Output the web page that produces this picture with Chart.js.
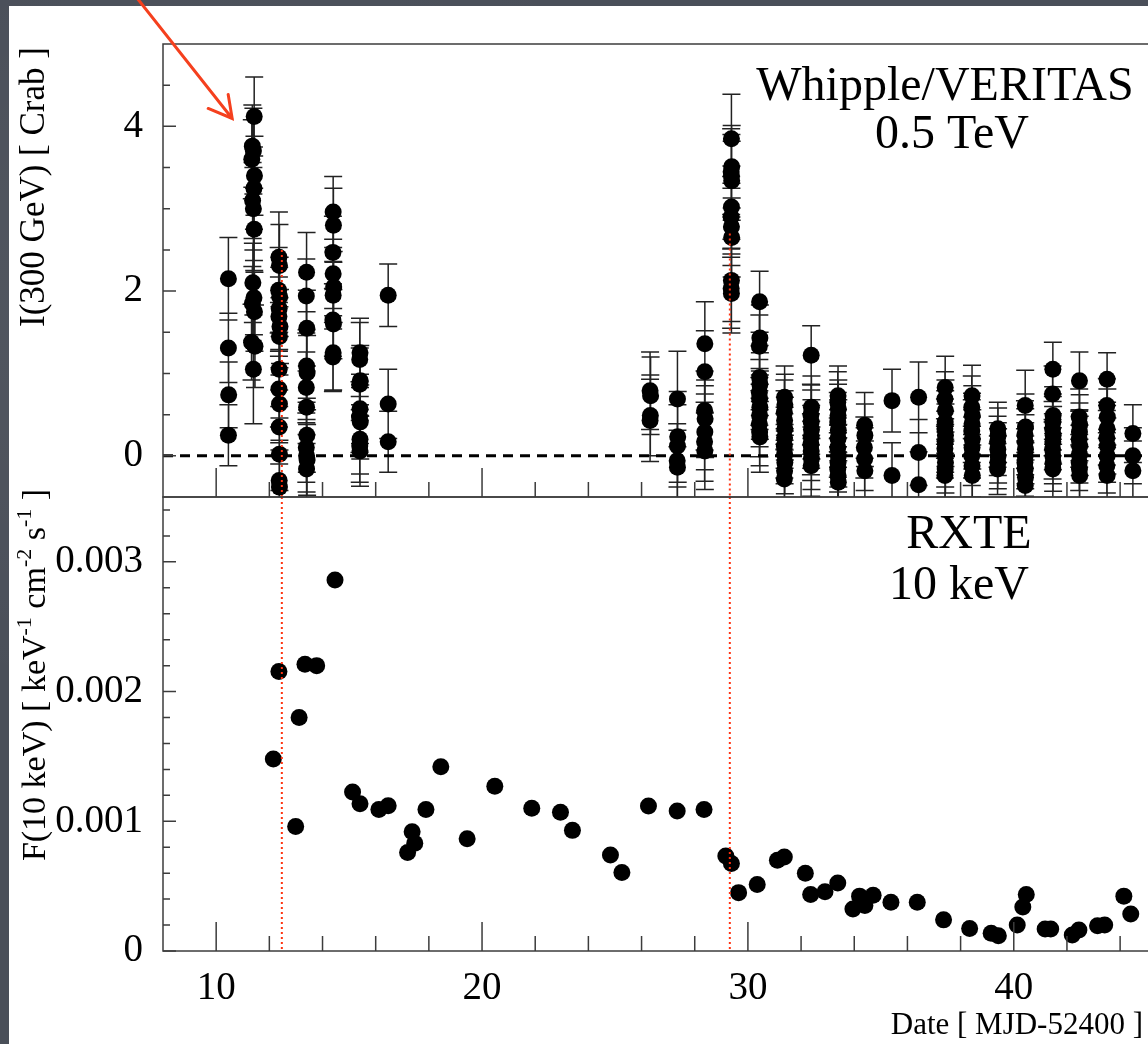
<!DOCTYPE html>
<html>
<head>
<meta charset="utf-8">
<title>Mrk 421 light curves</title>
<script src="https://cdn.jsdelivr.net/npm/chart.js@4.4.1/dist/chart.umd.min.js"></script>
<style>
  html, body { margin: 0; padding: 0; overflow: hidden; }
  body {
    width: 1148px; height: 1044px; position: relative;
    background-color: #4a4f59;
    background-image:
      radial-gradient(ellipse at 20% 30%, rgba(255,255,255,0.06), transparent 40%),
      radial-gradient(ellipse at 70% 80%, rgba(0,0,0,0.12), transparent 45%),
      radial-gradient(ellipse at 40% 95%, rgba(255,255,255,0.05), transparent 35%);
  }
  #sheet { position: absolute; left: 9px; top: 6px; right: 0; bottom: 0; background: #fff; }
  canvas { position: absolute; left: 0; top: 0; }
</style>
</head>
<body>
<div id="sheet"></div>
<canvas id="xte" width="1170" height="1044"></canvas>
<canvas id="vhe" width="1170" height="1044"></canvas>
<script>
// Whipple/VERITAS runs: day (MJD-52400), flux in Crab units, 1-sigma error
const vheDay = [
  10.46, 10.46, 10.47, 10.46,
  11.43, 11.36, 11.40, 11.34, 11.44, 11.42, 11.37, 11.40, 11.43, 11.38, 11.42, 11.36, 11.44, 11.33, 11.46, 11.40,
  12.36, 12.38, 12.35, 12.39, 12.37, 12.36, 12.40, 12.38, 12.37, 12.36, 12.38, 12.37, 12.38, 12.37, 12.38,
  13.40, 13.39, 13.41, 13.40, 13.42, 13.39, 13.40, 13.41, 13.39, 13.40, 13.42, 13.40,
  14.40, 14.41, 14.39, 14.40, 14.42, 14.40, 14.39, 14.41, 14.40, 14.39,
  15.41, 15.40, 15.42, 15.40, 15.41, 15.39, 15.42, 15.41, 15.40, 15.41,
  16.47, 16.47, 16.47,
  26.32, 26.34, 26.33, 26.32,
  27.35, 27.36, 27.35, 27.34, 27.35,
  28.38, 28.38, 28.37, 28.39, 28.38, 28.37, 28.38,
  29.38, 29.39, 29.37, 29.38, 29.39, 29.38, 29.37, 29.38, 29.39, 29.38, 29.37, 29.38,
  30.44, 30.45, 30.43, 30.44, 30.45, 30.43, 30.44, 30.45, 30.44, 30.43, 30.44, 30.45,
  31.38, 31.39, 31.37, 31.38, 31.39, 31.38, 31.37, 31.38, 31.39, 31.38, 31.37,
  32.38, 32.39, 32.37, 32.38, 32.39, 32.38, 32.37, 32.38, 32.39, 32.38,
  33.39, 33.38, 33.40, 33.39, 33.38, 33.40, 33.39, 33.38, 33.40, 33.39, 33.38, 33.39, 33.40,
  34.39, 34.40, 34.38, 34.39, 34.40,
  35.42, 35.42,
  36.42, 36.42, 36.42,
  37.42, 37.41, 37.43, 37.42, 37.41, 37.43, 37.42, 37.41, 37.42, 37.43, 37.42, 37.41,
  38.43, 38.42, 38.44, 38.43, 38.42, 38.44, 38.43, 38.42, 38.43, 38.44,
  39.40, 39.41, 39.39, 39.40, 39.41, 39.40, 39.39,
  40.43, 40.44, 40.42, 40.43, 40.44, 40.43, 40.42, 40.43, 40.44, 40.43,
  41.47, 41.46, 41.48, 41.47, 41.46, 41.48, 41.47, 41.46, 41.47, 41.48, 41.47,
  42.47, 42.46, 42.48, 42.47, 42.46, 42.48, 42.47, 42.46, 42.47, 42.48,
  43.51, 43.50, 43.52, 43.51, 43.50, 43.52, 43.51, 43.50, 43.51,
  44.48, 44.48, 44.48
];
const vheFlux = [
  2.15, 1.31, 0.74, 0.25,
  4.12, 3.76, 3.70, 3.60, 3.40, 3.25, 3.10, 3.00, 2.75, 2.10, 1.92, 1.85, 1.75, 1.38, 1.33, 1.05,
  2.41, 2.31, 2.01, 1.93, 1.79, 1.69, 1.57, 1.45, 1.05, 0.81, 0.63, 0.35, 0.02, -0.30, -0.38,
  2.23, 1.94, 1.55, 1.09, 1.01, 0.83, 0.59, 0.25, 0.10, 0.00, -0.05, -0.16,
  2.96, 2.80, 2.47, 2.21, 2.05, 1.95, 1.65, 1.60, 1.25, 1.20,
  1.25, 1.17, 0.91, 0.87, 0.57, 0.47, 0.41, 0.20, 0.12, 0.06,
  1.95, 0.63, 0.17,
  0.79, 0.73, 0.49, 0.43,
  0.69, 0.23, 0.12, -0.06, -0.14,
  1.36, 1.02, 0.55, 0.45, 0.29, 0.17, 0.06,
  3.85, 3.51, 3.45, 3.40, 3.34, 3.02, 2.90, 2.78, 2.65, 2.13, 2.03, 1.97,
  1.87, 1.43, 1.33, 0.95, 0.87, 0.77, 0.69, 0.59, 0.49, 0.39, 0.29, 0.23,
  0.71, 0.62, 0.53, 0.43, 0.33, 0.22, 0.12, 0.02, -0.08, -0.18, -0.28,
  1.22, 0.59, 0.50, 0.41, 0.32, 0.23, 0.14, 0.06, -0.03, -0.12,
  0.73, 0.65, 0.57, 0.49, 0.41, 0.31, 0.21, 0.10, 0.00, -0.08, -0.16, -0.24, -0.32,
  0.37, 0.25, 0.10, -0.04, -0.18,
  0.67, -0.24,
  0.71, 0.04, -0.35,
  0.83, 0.69, 0.55, 0.41, 0.33, 0.25, 0.17, 0.09, 0.00, -0.08, -0.16, -0.24,
  0.73, 0.59, 0.49, 0.39, 0.30, 0.20, 0.10, 0.00, -0.12, -0.24,
  0.33, 0.25, 0.17, 0.08, 0.00, -0.08, -0.16,
  0.61, 0.35, 0.26, 0.17, 0.08, 0.00, -0.08, -0.16, -0.26, -0.36,
  1.05, 0.75, 0.49, 0.41, 0.33, 0.25, 0.17, 0.08, 0.00, -0.08, -0.16,
  0.91, 0.47, 0.38, 0.29, 0.20, 0.12, 0.02, -0.08, -0.16, -0.24,
  0.93, 0.61, 0.47, 0.33, 0.22, 0.12, 0.00, -0.12, -0.24,
  0.27, 0.00, -0.18
];
const vheErr = [
  0.50, 0.42, 0.40, 0.37,
  0.48, 0.50, 0.52, 0.48, 0.48, 0.50, 0.46, 0.50, 0.50, 0.48, 0.45, 0.45, 0.48, 0.46, 0.50, 0.66,
  0.55, 0.50, 0.52, 0.48, 0.50, 0.48, 0.45, 0.47, 0.45, 0.46, 0.44, 0.45, 0.44, 0.46, 0.45,
  0.48, 0.45, 0.46, 0.44, 0.45, 0.43, 0.44, 0.45, 0.42, 0.44, 0.43, 0.42,
  0.43, 0.45, 0.44, 0.42, 0.43, 0.41, 0.44, 0.42, 0.45, 0.42,
  0.42, 0.45, 0.43, 0.44, 0.42, 0.43, 0.45, 0.42, 0.44, 0.43,
  0.38, 0.42, 0.37,
  0.47, 0.47, 0.49, 0.50,
  0.58, 0.55, 0.50, 0.45, 0.45,
  0.51, 0.50, 0.48, 0.47, 0.46, 0.48, 0.47,
  0.54, 0.50, 0.52, 0.50, 0.48, 0.50, 0.49, 0.47, 0.48, 0.50, 0.48, 0.48,
  0.37, 0.40, 0.38, 0.39, 0.38, 0.40, 0.37, 0.39, 0.38, 0.40, 0.41, 0.43,
  0.38, 0.37, 0.39, 0.36, 0.38, 0.37, 0.39, 0.36, 0.38, 0.37, 0.36,
  0.36, 0.38, 0.37, 0.39, 0.36, 0.38, 0.37, 0.36, 0.38, 0.37,
  0.36, 0.37, 0.35, 0.38, 0.36, 0.37, 0.35, 0.36, 0.38, 0.36, 0.37, 0.35, 0.36,
  0.40, 0.38, 0.37, 0.38, 0.36,
  0.38, 0.40,
  0.43, 0.40, 0.40,
  0.38, 0.33, 0.37, 0.38, 0.36, 0.38, 0.37, 0.36, 0.38, 0.37, 0.36, 0.38,
  0.37, 0.38, 0.36, 0.37, 0.38, 0.36, 0.37, 0.36, 0.38, 0.37,
  0.32, 0.33, 0.31, 0.32, 0.33, 0.32, 0.31,
  0.43, 0.40, 0.41, 0.40, 0.42, 0.40, 0.41, 0.40, 0.42, 0.40,
  0.33, 0.34, 0.35, 0.34, 0.33, 0.35, 0.34, 0.36, 0.34, 0.35, 0.36,
  0.35, 0.34, 0.36, 0.35, 0.34, 0.36, 0.35, 0.34, 0.36, 0.35,
  0.32, 0.33, 0.34, 0.32, 0.33, 0.34, 0.32, 0.33, 0.34,
  0.35, 0.34, 0.36
];

// RXTE pointings: day (MJD-52400) and F(10 keV) in keV^-1 cm^-2 s^-1
const xteDay = [
  12.15, 12.36, 12.99, 13.12, 13.34, 13.78, 14.47, 15.13, 15.41, 16.12,
  16.47, 17.20, 17.37, 17.47, 17.89, 18.45, 19.44, 20.48, 21.87, 22.95,
  23.40, 24.83, 25.26, 26.26, 27.34, 28.35, 29.17, 29.38, 29.65, 30.35,
  31.11, 31.37, 32.16, 32.36, 32.90, 33.38, 33.95, 34.20, 34.40, 34.71,
  35.38, 36.37, 37.36, 38.34, 39.15, 39.42, 40.13, 40.34, 40.47, 41.18,
  41.39, 42.20, 42.45, 43.15, 43.42, 44.14, 44.40
];
const xteFlux = [
  0.00148, 0.002154, 0.00096, 0.00180, 0.00221, 0.00220, 0.00286, 0.001225, 0.001135, 0.00109,
  0.00112, 0.00076, 0.00092, 0.00083, 0.00109, 0.00142, 0.000865, 0.00127, 0.00110, 0.00107,
  0.00093, 0.00074, 0.000605, 0.001118, 0.00108, 0.00109, 0.000733, 0.000675, 0.00045, 0.000513,
  0.00070, 0.000725, 0.00060, 0.000436, 0.000456, 0.000525, 0.000323, 0.000423, 0.00035, 0.00043,
  0.000375, 0.000375, 0.00024, 0.000174, 0.000136, 0.000118, 0.00020, 0.00034, 0.000436, 0.000169,
  0.000169, 0.000123, 0.000162, 0.000195, 0.00020, 0.000423, 0.000285
];

// axis ticks
const dayTicks = [10, 20, 30, 40];
const dayMinor = [12, 14, 16, 18, 22, 24, 26, 28, 32, 34, 36, 38, 42, 44];
const crabTicks = [0, 2, 4];
const crabMinor = [0.5, 1, 1.5, 2.5, 3, 3.5, 4.5];
const fluxTicks = [0, 0.001, 0.002, 0.003];
const fluxMinor = [0.0002, 0.0004, 0.0006, 0.0008, 0.0012, 0.0014, 0.0016, 0.0018,
                   0.0022, 0.0024, 0.0026, 0.0028, 0.0032, 0.0034];

// flare markers (red dotted) and where they start in the TeV panel
const flareDays = [12.47, 29.32];
const flareTops = [2.5, 2.7];
// the arrowed TeV point
const arrowDay = 11.43;
const arrowFlux = 4.12;

const SERIF = "'Liberation Serif', 'Times New Roman', serif";

// Frame and inward tick marks
const framePlugin = {
  id: 'frame',
  afterDraw(chart, args, opts) {
    const { ctx, chartArea: a, scales: { x, y } } = chart;
    ctx.save();
    ctx.strokeStyle = '#3c3c3c';
    ctx.lineWidth = 1.5;
    ctx.strokeRect(a.left, a.top, a.right - a.left, a.bottom - a.top);
    ctx.beginPath();
    opts.yMajor.forEach(v => { const p = y.getPixelForValue(v); ctx.moveTo(a.left, p); ctx.lineTo(a.left + 13, p); });
    opts.yMinor.forEach(v => { const p = y.getPixelForValue(v); ctx.moveTo(a.left, p); ctx.lineTo(a.left + 7, p); });
    dayTicks.forEach(v => { const p = x.getPixelForValue(v); ctx.moveTo(p, a.bottom); ctx.lineTo(p, a.bottom - 29); });
    dayMinor.forEach(v => { const p = x.getPixelForValue(v); ctx.moveTo(p, a.bottom); ctx.lineTo(p, a.bottom - 15); });
    ctx.stroke();
    ctx.restore();
  }
};

// Vertical error bars with caps, under the points
const errorBarPlugin = {
  id: 'errorBars',
  beforeDatasetsDraw(chart) {
    const { ctx, chartArea: a, scales: { x, y } } = chart;
    ctx.save();
    ctx.beginPath();
    ctx.rect(a.left, a.top, a.right - a.left, a.bottom - a.top);
    ctx.clip();
    ctx.strokeStyle = '#222';
    ctx.lineWidth = 1.5;
    ctx.beginPath();
    chart.data.datasets[0].data.forEach(p => {
      if (p.err === undefined) return;
      const px = x.getPixelForValue(p.x);
      const hi = y.getPixelForValue(p.y + p.err);
      const lo = y.getPixelForValue(p.y - p.err);
      ctx.moveTo(px, hi); ctx.lineTo(px, lo);
      ctx.moveTo(px - 9, hi); ctx.lineTo(px + 9, hi);
      ctx.moveTo(px - 9, lo); ctx.lineTo(px + 9, lo);
    });
    ctx.stroke();
    ctx.restore();
  }
};

function drawFlares(chart, opts) {
  const { ctx, chartArea: a, scales: { x, y } } = chart;
  ctx.save();
  ctx.strokeStyle = '#ff3311';
  ctx.lineWidth = 2;
  ctx.setLineDash([2, 3]);
  flareDays.forEach((d, i) => {
    const px = x.getPixelForValue(d);
    const top = opts.fromTops ? y.getPixelForValue(flareTops[i]) : a.top;
    ctx.beginPath();
    ctx.moveTo(px, top); ctx.lineTo(px, a.bottom);
    ctx.stroke();
  });
  ctx.restore();
}

// Zero line and flare markers
const guidePlugin = {
  id: 'guides',
  beforeDatasetsDraw(chart, args, opts) {
    const { ctx, chartArea: a, scales: { y } } = chart;
    if (opts.zeroLine) {
      const p = y.getPixelForValue(0);
      ctx.save();
      ctx.strokeStyle = '#000';
      ctx.lineWidth = 3;
      ctx.setLineDash([10, 7]);
      ctx.beginPath();
      ctx.moveTo(a.left, p); ctx.lineTo(a.right, p);
      ctx.stroke();
      ctx.restore();
    }
  },
  afterDatasetsDraw(chart, args, opts) {
    // dotted markers stay visible through the points
    drawFlares(chart, opts);
  }
};

// Axis titles, panel captions and the red arrow
const textPlugin = {
  id: 'captions',
  afterDraw(chart, args, opts) {
    const ctx = chart.ctx;
    ctx.save();
    ctx.fillStyle = '#000';
    ctx.textBaseline = 'alphabetic';
    (opts.lines || []).forEach(l => {
      ctx.font = l.size + 'px ' + SERIF;
      ctx.textAlign = l.align || 'center';
      ctx.fillText(l.text, l.x, l.y);
    });
    if (opts.yTitle) {
      const t = opts.yTitle;
      ctx.translate(t.x, t.y);
      ctx.rotate(-Math.PI / 2);
      const parts = t.parts.map(pt => {
        ctx.font = (pt.sup ? t.supSize : t.size) + 'px ' + SERIF;
        return { ...pt, w: ctx.measureText(pt.text).width };
      });
      let cx = -parts.reduce((s, pt) => s + pt.w, 0) / 2;
      ctx.textAlign = 'left';
      parts.forEach(pt => {
        ctx.font = (pt.sup ? t.supSize : t.size) + 'px ' + SERIF;
        ctx.fillText(pt.text, cx, pt.sup ? t.base - 14 : t.base);
        cx += pt.w;
      });
      ctx.setTransform(1, 0, 0, 1, 0, 0);
    }
    if (opts.arrow) {
      const { x, y } = chart.scales;
      const tx = x.getPixelForValue(arrowDay) - 22;
      const ty = y.getPixelForValue(arrowFlux) + 2;
      ctx.strokeStyle = '#f5401e';
      ctx.lineWidth = 3;
      ctx.lineCap = 'round';
      ctx.beginPath();
      ctx.moveTo(tx - 98, ty - 124);
      ctx.lineTo(tx, ty);
      ctx.moveTo(tx - 24, ty - 10);
      ctx.lineTo(tx, ty);
      ctx.lineTo(tx - 4, ty - 24);
      ctx.stroke();
    }
    ctx.restore();
  }
};

const tickFont = { family: SERIF, size: 39 };

// RXTE panel (lower)
new Chart(document.getElementById('xte'), {
  type: 'scatter',
  data: {
    datasets: [{
      data: xteDay.map((d, i) => ({ x: d, y: xteFlux[i] })),
      pointRadius: 8.5, pointHoverRadius: 8.5,
      backgroundColor: '#000', borderWidth: 0
    }]
  },
  options: {
    responsive: false, animation: false, devicePixelRatio: 1,
    events: [],
    layout: { padding: { top: 497, bottom: 0, left: 0, right: 10 } },
    plugins: {
      legend: { display: false }, tooltip: { enabled: false },
      frame: { yMajor: fluxTicks, yMinor: fluxMinor },
      guides: { zeroLine: false, fromTops: false },
      captions: {
        lines: [
          { text: 'RXTE', x: 969, y: 548, size: 48 },
          { text: '10 keV', x: 959, y: 599, size: 48 },
          { text: 'Date [ MJD-52400 ]', x: 1143, y: 1034, size: 31, align: 'right' }
        ],
        yTitle: {
          x: 34, y: 675, size: 34, supSize: 22, base: 11,
          parts: [
            { text: 'F(10 keV) [ keV' }, { text: '-1', sup: true },
            { text: ' cm' }, { text: '-2', sup: true },
            { text: ' s' }, { text: '-1', sup: true }, { text: ' ]' }
          ]
        }
      }
    },
    scales: {
      x: {
        type: 'linear', min: 8, max: 45.5,
        afterFit: s => { s.height = 93; },
        afterBuildTicks: s => { s.ticks = dayTicks.map(v => ({ value: v })); },
        grid: { display: false, drawTicks: false },
        border: { display: false },
        ticks: { font: tickFont, color: '#000', padding: 14, maxRotation: 0 }
      },
      y: {
        type: 'linear', min: 0, max: 0.0035,
        afterFit: s => { s.width = 163; },
        afterBuildTicks: s => { s.ticks = fluxTicks.map(v => ({ value: v })); },
        grid: { display: false, drawTicks: false },
        border: { display: false },
        ticks: { font: tickFont, color: '#000', padding: 20,
                 callback: v => v === 0 ? '0' : v.toFixed(3) }
      }
    }
  },
  plugins: [framePlugin, guidePlugin, textPlugin]
});

// Whipple/VERITAS panel (upper)
new Chart(document.getElementById('vhe'), {
  type: 'scatter',
  data: {
    datasets: [{
      data: vheDay.map((d, i) => ({ x: d, y: vheFlux[i], err: vheErr[i] })),
      pointRadius: 8.5, pointHoverRadius: 8.5,
      backgroundColor: '#000', borderWidth: 0
    }]
  },
  options: {
    responsive: false, animation: false, devicePixelRatio: 1,
    events: [],
    layout: { padding: { top: 44, bottom: 547, left: 0, right: 10 } },
    plugins: {
      legend: { display: false }, tooltip: { enabled: false },
      frame: { yMajor: crabTicks, yMinor: crabMinor },
      guides: { zeroLine: true, fromTops: true },
      captions: {
        lines: [
          { text: 'Whipple/VERITAS', x: 945, y: 100, size: 48 },
          { text: '0.5 TeV', x: 952, y: 148, size: 48 }
        ],
        yTitle: {
          x: 33, y: 187, size: 35, supSize: 22, base: 11,
          parts: [{ text: 'I(300 GeV) [ Crab ]' }]
        },
        arrow: true
      }
    },
    scales: {
      x: { type: 'linear', min: 8, max: 45.5, display: false },
      y: {
        type: 'linear', min: -0.5, max: 5,
        afterFit: s => { s.width = 163; },
        afterBuildTicks: s => { s.ticks = crabTicks.map(v => ({ value: v })); },
        grid: { display: false, drawTicks: false },
        border: { display: false },
        ticks: { font: tickFont, color: '#000', padding: 20 }
      }
    }
  },
  plugins: [framePlugin, errorBarPlugin, guidePlugin, textPlugin]
});
</script>
</body>
</html>
